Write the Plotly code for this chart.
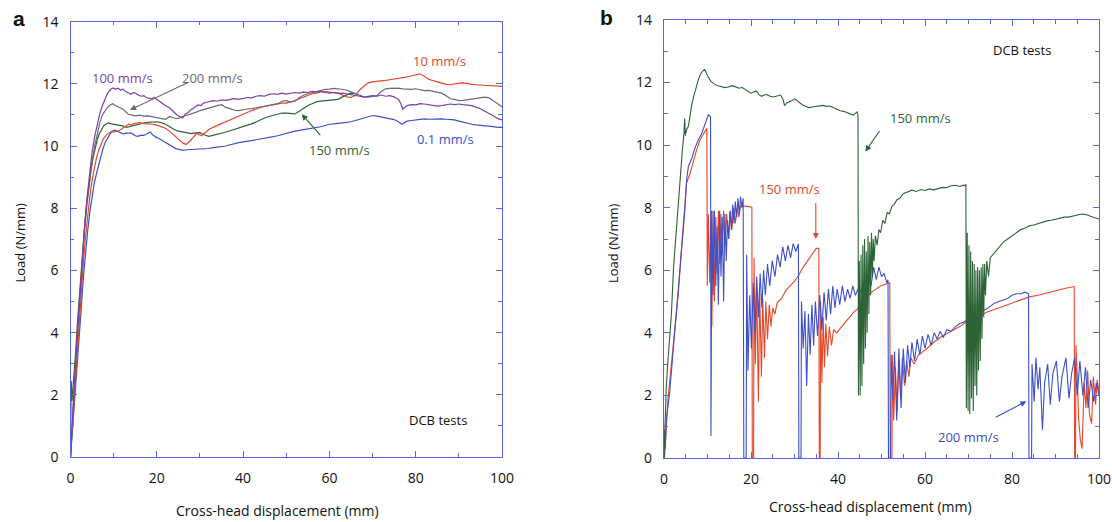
import plotly.graph_objects as go

# ---------------- panel (a): five loading rates ----------------
a_01_x = [0, 0.5, 1.0, 1.5, 2.0, 2.5, 3.0, 3.5, 4.0, 4.5, 5.0, 5.5, 6.0, 6.5, 7.0, 7.5, 8.0, 8.5, 9.0, 9.5, 10, 10.5, 11, 11.5, 12, 12.5, 13, 13.5, 14, 14.5, 15, 15.5, 16, 16.5, 17, 17.5, 18, 18.5, 19, 19.5, 20, 20.5, 21, 21.5, 22, 22.5, 23, 23.5, 24, 24.5, 25, 26, 27, 28, 29, 30, 31, 32, 33, 34, 35, 36, 37, 38, 39, 40, 41, 42, 43, 44, 45, 46, 47, 48, 49, 50, 51, 52, 53, 54, 55, 56, 57, 58, 59, 60, 61, 62, 63, 64, 65, 66, 67, 68, 69, 70, 71, 72, 73, 74, 75, 76, 76.8, 77.5, 78, 79, 80, 81, 82, 83, 84, 85, 86, 87, 88, 89, 90, 91, 92, 93, 94, 95, 96, 97, 98, 99, 100]
a_01_y = [0, 0.9, 1.9, 2.8, 3.8, 4.8, 5.8, 6.6, 7.3, 7.9, 8.4, 8.8, 9.1, 9.4, 9.7, 9.9, 10.1, 10.25, 10.35, 10.45, 10.5, 10.5, 10.46, 10.43, 10.4, 10.39, 10.42, 10.41, 10.42, 10.38, 10.33, 10.31, 10.33, 10.35, 10.34, 10.38, 10.42, 10.45, 10.36, 10.3, 10.27, 10.24, 10.2, 10.16, 10.12, 10.07, 10.03, 9.98, 9.94, 9.91, 9.9, 9.86, 9.88, 9.89, 9.9, 9.91, 9.9, 9.92, 9.95, 9.96, 9.98, 10.0, 10.04, 10.08, 10.11, 10.13, 10.14, 10.17, 10.2, 10.22, 10.25, 10.28, 10.3, 10.33, 10.37, 10.42, 10.46, 10.48, 10.5, 10.52, 10.55, 10.57, 10.6, 10.62, 10.66, 10.7, 10.71, 10.72, 10.74, 10.76, 10.78, 10.82, 10.86, 10.9, 10.95, 10.98, 10.96, 10.93, 10.9, 10.88, 10.85, 10.78, 10.7, 10.76, 10.8, 10.82, 10.84, 10.85, 10.87, 10.86, 10.87, 10.86, 10.87, 10.86, 10.85, 10.84, 10.8, 10.76, 10.73, 10.7, 10.68, 10.67, 10.66, 10.65, 10.62, 10.6, 10.6]

a_10_x = [0, 0.5, 1.0, 1.5, 2.0, 2.5, 3.0, 3.5, 4.0, 4.5, 5.0, 5.5, 6.0, 6.5, 7.0, 7.5, 8.0, 8.5, 9.0, 9.5, 10, 10.5, 11, 11.5, 12, 12.5, 13, 13.5, 14, 15, 16, 17, 18, 19, 20, 21, 22, 23, 24, 25, 26, 26.8, 27.4, 28, 28.6, 29.2, 29.8, 30.4, 31, 32, 33, 34, 35, 36, 37, 38, 39, 40, 41, 42, 43, 44, 45, 46, 47, 48, 49, 50, 51, 52, 53, 54, 55, 56, 57, 58, 59, 60, 61, 62, 63, 64, 65, 66, 67, 68, 69, 70, 71, 72, 73, 74, 75, 76, 77, 78, 79, 80, 81, 82, 83, 84, 85, 86, 87, 88, 89, 90, 91, 92, 93, 94, 95, 96, 97, 98, 99, 100]
a_10_y = [0, 1.1, 2.2, 3.3, 4.3, 5.3, 6.3, 7.1, 7.8, 8.4, 8.9, 9.3, 9.6, 9.85, 10.05, 10.2, 10.3, 10.38, 10.42, 10.47, 10.45, 10.48, 10.47, 10.52, 10.58, 10.62, 10.66, 10.7, 10.68, 10.73, 10.75, 10.72, 10.72, 10.7, 10.67, 10.63, 10.57, 10.47, 10.36, 10.22, 10.1, 10.05, 10.12, 10.2, 10.3, 10.4, 10.36, 10.33, 10.4, 10.52, 10.6, 10.66, 10.72, 10.8, 10.84, 10.9, 10.98, 11.04, 11.1, 11.14, 11.18, 11.24, 11.27, 11.3, 11.33, 11.36, 11.38, 11.38, 11.41, 11.46, 11.52, 11.58, 11.64, 11.68, 11.7, 11.74, 11.75, 11.73, 11.72, 11.7, 11.64, 11.58, 11.56, 11.62, 11.8, 11.93, 12.03, 12.06, 12.07, 12.1, 12.11, 12.13, 12.15, 12.18, 12.2, 12.22, 12.26, 12.28, 12.32, 12.24, 12.15, 12.1, 12.06, 12.02, 11.98, 11.97, 12.0, 12.02, 12.03, 12.0, 11.98, 11.97, 11.96, 11.95, 11.93, 11.94, 11.91, 11.92]

a_100_x = [0, 0.3, 0.8, 1.4, 2.0, 2.6, 3.2, 3.8, 4.4, 5.0, 5.6, 6.2, 6.8, 7.4, 8.0, 8.6, 9.2, 9.8, 10.4, 11.0, 11.6, 12.2, 12.8, 13.4, 14.0, 14.6, 15.2, 15.8, 16.4, 17.0, 17.6, 18.2, 18.8, 19.4, 20.0, 20.6, 21.2, 21.8, 22.4, 23.0, 23.6, 24.2, 24.8, 25.4, 26.0, 26.6, 27.2, 27.8, 28.4, 29.0, 29.6, 30.2, 30.8, 31.4, 32, 33, 34, 35, 36, 37, 38, 39, 40, 41, 42, 43, 44, 45, 46, 47, 48, 49, 50, 51, 52, 53, 54, 55, 56, 57, 58, 59, 60, 61, 62, 63, 64, 65, 66, 67, 68, 69, 70, 71, 72, 73, 74, 75, 76, 76.6, 77, 78, 79, 80, 81, 82, 83, 84, 85, 86, 87, 88, 89, 90, 91, 92, 93, 94, 95, 96, 97, 98, 99, 100]
a_100_y = [0, 0.9, 2.1, 3.5, 4.8, 6.0, 7.3, 8.3, 9.1, 9.8, 10.3, 10.7, 11.05, 11.3, 11.5, 11.7, 11.8, 11.87, 11.83, 11.86, 11.8, 11.83, 11.75, 11.7, 11.66, 11.72, 11.69, 11.63, 11.6, 11.62, 11.55, 11.54, 11.52, 11.56, 11.5, 11.45, 11.36, 11.32, 11.27, 11.22, 11.14, 11.06, 10.98, 10.94, 10.9, 11.02, 11.07, 11.16, 11.2, 11.27, 11.32, 11.3, 11.38, 11.4, 11.42, 11.46, 11.44, 11.48, 11.47, 11.5, 11.52, 11.5, 11.54, 11.56, 11.55, 11.6, 11.62, 11.6, 11.66, 11.68, 11.66, 11.7, 11.67, 11.69, 11.72, 11.7, 11.73, 11.72, 11.76, 11.74, 11.76, 11.72, 11.7, 11.72, 11.69, 11.7, 11.68, 11.66, 11.62, 11.6, 11.57, 11.6, 11.62, 11.6, 11.64, 11.6, 11.62, 11.58, 11.5, 11.35, 11.18, 11.3, 11.33, 11.32, 11.36, 11.35, 11.33, 11.3, 11.28, 11.3, 11.33, 11.35, 11.33, 11.35, 11.33, 11.32, 11.3, 11.25, 11.2, 11.12, 11.05, 10.97, 10.88, 10.84]

a_150_x = [0, 0.15, 0.35, 0.7, 1.2, 1.7, 2.2, 2.7, 3.2, 3.7, 4.2, 4.7, 5.2, 5.7, 6.2, 6.7, 7.2, 7.7, 8.2, 8.7, 9.2, 10, 11, 12, 13, 14, 15, 16, 17, 18, 19, 20, 21, 22, 23, 24, 25, 26, 27, 28, 29, 30, 31, 32, 33, 34, 35, 36, 37, 38, 39, 40, 41, 42, 43, 44, 45, 46, 47, 48, 49, 50, 51, 52, 53, 54, 55, 56, 57, 58, 59, 60, 61, 62, 63, 64, 65, 66]
a_150_y = [0, 2.45, 1.8, 2.4, 3.4, 4.5, 5.5, 6.4, 7.3, 8.1, 8.7, 9.2, 9.6, 9.95, 10.2, 10.4, 10.55, 10.65, 10.7, 10.74, 10.72, 10.7, 10.68, 10.65, 10.6, 10.64, 10.68, 10.7, 10.74, 10.76, 10.77, 10.78, 10.75, 10.7, 10.62, 10.53, 10.48, 10.46, 10.44, 10.4, 10.42, 10.43, 10.36, 10.31, 10.34, 10.37, 10.4, 10.45, 10.49, 10.54, 10.58, 10.62, 10.67, 10.71, 10.78, 10.84, 10.9, 10.95, 10.98, 11.02, 11.06, 11.06, 11.05, 11.03, 11.12, 11.22, 11.3, 11.36, 11.42, 11.44, 11.46, 11.47, 11.48, 11.5, 11.58, 11.65, 11.7, 11.68]

a_200_x = [0, 0.3, 0.8, 1.4, 2.0, 2.6, 3.2, 3.8, 4.4, 5.0, 5.6, 6.2, 6.8, 7.4, 8.0, 8.6, 9.2, 9.8, 10.4, 11.0, 11.6, 12.2, 12.8, 13.4, 14, 15, 16, 17, 18, 19, 20, 21, 22, 23, 24, 25, 26, 27, 28, 29, 30, 31, 32, 33, 34, 35, 36, 37, 38, 39, 40, 41, 42, 43, 44, 45, 46, 47, 48, 49, 50, 51, 52, 53, 54, 55, 56, 57, 58, 59, 60, 61, 62, 63, 64, 65, 66, 67, 68, 69, 70, 71, 72, 73, 74, 75, 76, 77, 78, 79, 80, 81, 82, 83, 84, 85, 86, 87, 88, 89, 90, 91, 92, 93, 94, 95, 96, 97, 98, 99, 100]
a_200_y = [0, 0.9, 2.1, 3.5, 4.8, 6.0, 7.2, 8.1, 8.9, 9.5, 10.0, 10.4, 10.75, 11.0, 11.15, 11.25, 11.32, 11.36, 11.3, 11.27, 11.22, 11.18, 11.1, 11.02, 11.0, 10.97, 10.99, 10.96, 10.97, 10.94, 10.92, 10.9, 10.86, 10.95, 10.9, 10.88, 10.95, 10.99, 11.03, 11.08, 11.14, 11.18, 11.22, 11.28, 11.3, 11.33, 11.24, 11.2, 11.15, 11.14, 11.17, 11.19, 11.2, 11.23, 11.25, 11.27, 11.3, 11.33, 11.36, 11.44, 11.46, 11.42, 11.44, 11.55, 11.63, 11.68, 11.72, 11.76, 11.79, 11.82, 11.83, 11.85, 11.84, 11.83, 11.8, 11.74, 11.68, 11.62, 11.58, 11.57, 11.6, 11.62, 11.75, 11.84, 11.85, 11.86, 11.86, 11.84, 11.83, 11.82, 11.84, 11.8, 11.78, 11.79, 11.76, 11.74, 11.7, 11.62, 11.52, 11.5, 11.46, 11.47, 11.49, 11.5, 11.52, 11.54, 11.57, 11.55, 11.45, 11.35, 11.26]

# ---------------- panel (b): stick-slip records ----------------
b_green_x = [0, 0.15, 0.5, 0.9, 1.3, 1.7, 2.2, 2.9, 3.6, 4.2, 4.6, 4.75, 4.9, 5.2, 5.6, 6.0, 6.4, 6.9, 7.4, 8.0, 8.5, 9.0, 9.3, 9.6, 10.0, 10.8, 11.6, 12.4, 13.2, 14.0, 14.8, 15.6, 16.4, 17.2, 18.0, 18.8, 19.5, 20.0, 20.6, 21.2, 21.8, 22.4, 23.0, 23.6, 24.4, 25.2, 26.0, 26.8, 27.4, 27.7, 28.2, 28.8, 29.3, 30.1, 30.9, 31.7, 32.5, 33.3, 34.1, 34.9, 35.7, 36.5, 37.3, 38.1, 38.9, 39.7, 40.5, 41.3, 42.1, 42.9, 43.5, 44.1, 44.4, 44.6,
             44.7, 44.9, 45.1, 45.3, 45.5, 45.7, 45.9, 46.1, 46.3, 46.5, 46.7, 46.9, 47.1, 47.3, 47.5, 47.7, 47.9, 48.1, 48.3, 48.6, 49.0, 49.4, 49.8, 50.3, 50.8, 51.3, 51.8, 52.4, 52.9, 53.5, 54.2, 55.0, 56.0, 57.0, 58.0, 59.0, 60.0, 61.0, 62.0, 63.0, 64.0, 65.0, 66.0, 67.0, 68.0, 68.8, 69.2, 69.4,
             69.5, 69.7, 69.9, 70.1, 70.3, 70.5, 70.7, 70.9, 71.1, 71.3, 71.5, 71.7, 71.9, 72.1, 72.3, 72.5, 72.7, 72.9, 73.1, 73.3, 73.5, 73.7, 73.9, 74.2, 74.6, 75.0, 75.6, 76.3, 77, 78, 79, 80, 81, 82, 83, 84, 85, 86, 87, 88, 89, 90, 91, 92, 93, 94, 95, 96, 97, 98, 99, 100]
b_green_y = [0, 0.8, 2.2, 3.1, 3.9, 4.6, 6.1, 7.4, 8.9, 9.8, 10.4, 10.85, 10.3, 10.5, 10.6, 11.0, 11.3, 11.6, 11.85, 12.14, 12.3, 12.38, 12.42, 12.35, 12.22, 12.04, 11.95, 11.9, 11.88, 11.84, 11.86, 11.9, 11.87, 11.82, 11.84, 11.76, 11.7, 11.66, 11.7, 11.73, 11.62, 11.56, 11.6, 11.62, 11.56, 11.54, 11.57, 11.6, 11.45, 11.26, 11.35, 11.4, 11.42, 11.48, 11.38, 11.3, 11.24, 11.2, 11.22, 11.23, 11.25, 11.27, 11.24, 11.25, 11.2, 11.14, 11.1, 11.08, 11.03, 10.98, 10.96, 11.03, 11.06, 10.95,
             2.0, 6.3, 2.0, 6.5, 2.3, 6.8, 3.0, 7.0, 3.5, 6.6, 4.0, 7.1, 4.6, 6.9, 5.2, 7.2, 5.8, 7.0, 6.3, 7.1, 6.8, 7.3, 7.2, 7.6, 7.5, 7.85, 7.8, 8.05, 8.1, 8.25, 8.3, 8.45, 8.5, 8.56, 8.52, 8.58, 8.55, 8.6, 8.57, 8.62, 8.65, 8.64, 8.7, 8.72, 8.68, 8.72, 8.7, 8.75,
             1.6, 7.2, 1.5, 6.8, 1.4, 6.6, 1.9, 6.3, 1.5, 6.2, 2.3, 6.0, 2.0, 6.1, 2.8, 6.0, 3.1, 6.1, 3.8, 6.2, 4.5, 6.2, 5.2, 6.3, 5.8, 6.4, 6.5, 6.6, 6.75, 6.9, 7.0, 7.1, 7.2, 7.3, 7.35, 7.42, 7.45, 7.5, 7.55, 7.58, 7.6, 7.63, 7.66, 7.7, 7.7, 7.73, 7.75, 7.8, 7.78, 7.72, 7.68, 7.64]

b_red_x = [0, 0.15, 0.9, 1.7, 2.5, 3.3, 4.0, 4.8, 5.2, 6.0, 6.7, 7.5, 8.3, 9.1, 9.6, 9.85,
           9.95, 10.2, 10.5, 10.8, 11.0, 11.3, 11.6, 11.9, 12.2, 12.5, 12.8, 13.1, 13.4, 13.7, 14.0, 14.4, 14.8, 15.2, 15.6, 16.0, 16.4, 16.8, 17.2, 17.6, 18.0, 19.0, 20.2,
           20.3, 20.6, 20.7, 21.0, 21.3, 21.7, 22.0, 22.4, 22.7, 23.1, 23.4, 23.8, 24.2, 24.6, 25.0, 25.5, 26, 27, 28, 29, 30, 31, 32, 33, 34, 35, 35.6,
           35.7, 35.9, 36.0, 36.3, 36.6, 36.9, 37.2, 37.6, 38.0, 38.5, 39.0, 39.7, 40.5, 41.2, 42.0, 42.8, 43.5, 44.3, 45.1, 45.9, 46.6, 47.4, 48.2, 49.0, 49.8, 50.5, 51.2, 51.9,
           52.0, 52.4, 52.5, 52.8, 53.2, 53.6, 54.0, 54.4, 54.8, 55.3, 55.8, 56.3, 56.8, 57.5, 58.5, 59.5, 60.5, 62, 64, 66, 68, 70, 72, 74, 76, 78, 80, 82, 84, 86, 88, 90, 92, 94.3,
           94.4, 94.6, 94.7, 95.0, 95.3, 95.7, 96.1, 96.6, 97.0, 97.4, 97.8, 98.3, 98.7, 99.2, 99.6, 100]
b_red_y = [0, 0.05, 1.86, 2.93, 4.0, 5.27, 6.66, 8.04, 8.8, 9.1, 9.48, 9.85, 10.17, 10.38, 10.5, 10.54,
           5.5, 7.8, 5.6, 7.6, 4.2, 7.9, 5.0, 7.7, 5.9, 7.9, 6.2, 7.8, 6.5, 7.9, 6.8, 7.8, 7.0, 7.9, 7.3, 8.0, 7.5, 8.0, 7.7, 8.05, 8.05, 8.05, 8.02,
           0, 0, 6.4, 3.0, 5.6, 1.8, 5.3, 2.6, 5.1, 3.2, 5.0, 3.8, 4.9, 4.2, 4.8, 4.6, 4.96, 5.1, 5.35, 5.5, 5.65, 5.85, 6.1, 6.3, 6.5, 6.7, 6.7,
           0, 0, 5.0, 2.4, 4.5, 2.9, 4.3, 3.25, 4.2, 3.6, 4.1, 4.0, 4.15, 4.26, 4.4, 4.52, 4.65, 4.74, 4.9, 5.06, 5.15, 5.27, 5.35, 5.43, 5.5, 5.54, 5.57, 5.6,
           0, 0, 3.3, 1.2, 2.9, 1.5, 3.1, 1.9, 3.2, 2.3, 3.1, 2.6, 3.2, 3.0, 3.3, 3.4, 3.5, 3.7, 3.9, 4.05, 4.2, 4.4, 4.5, 4.65, 4.75, 4.85, 4.95, 5.05, 5.15, 5.2, 5.28, 5.35, 5.42, 5.48,
           0, 0, 3.6, 2.6, 1.3, 0.6, 0.3, 2.4, 1.6, 2.8, 1.4, 1.1, 2.6, 1.7, 2.5, 2.1]

b_blue_x = [0, 0.1, 0.3, 0.5, 1.3, 2.1, 2.9, 3.6, 4.4, 4.8, 5.2, 5.6, 6.4, 7.1, 7.9, 8.7, 9.5, 10.2, 10.6, 10.7,
            10.8, 11.0, 11.3, 11.6, 11.9, 12.2, 12.5, 12.8, 13.1, 13.4, 13.7, 14.0, 14.3, 14.6, 14.9, 15.2, 15.5, 15.8, 16.1, 16.4, 16.7, 17.0, 17.3, 17.6, 17.9, 18.2,
            18.35, 18.9, 19.0, 19.3, 19.7, 20.1, 20.5, 20.9, 21.3, 21.7, 22.1, 22.5, 22.9, 23.3, 23.8, 24.3, 24.9, 25.5, 26.1, 26.7, 27.3, 27.9, 28.5, 29.1, 29.7, 30.3, 30.9,
            31.0, 31.5, 31.6, 32.0, 32.4, 32.8, 33.2, 33.6, 34.0, 34.4, 34.8, 35.3, 35.8, 36.3, 36.8, 37.3, 37.8, 38.3, 38.8, 39.3, 39.8, 40.4, 41.0, 41.6, 42.2, 42.8, 43.4, 44.0, 44.6, 45.2, 45.8, 46.4, 47.0, 47.6, 48.2, 48.8, 49.4, 50.0, 50.6, 51.2, 51.5,
            51.6, 52.1, 52.2, 52.6, 53.0, 53.5, 54.0, 54.5, 55.0, 55.5, 56.0, 56.5, 57.0, 57.6, 58.2, 58.8, 59.4, 60.0, 60.7, 61.4, 62.1, 62.8, 63.5, 64.2, 65, 66, 67, 68, 69, 70, 71, 72, 73, 74, 75, 76, 77, 78, 79, 80, 81, 82, 83, 83.8,
            83.9, 84.5, 84.6, 85.1, 85.5, 86.0, 86.4, 87.0, 87.5, 88.2, 88.8, 89.4, 90.2, 90.9, 91.5, 92.4, 93.1, 93.7, 94.4, 95.0, 95.6, 96.3, 96.9, 97.5, 98.1, 98.8, 99.4, 100]
b_blue_y = [0, 0.9, 0.3, 1.2, 2.08, 3.46, 4.63, 5.91, 7.19, 7.93, 8.89, 9.32, 9.58, 9.9, 10.17, 10.38, 10.7, 10.97, 10.92, 10.9,
            0.7, 7.9, 5.2, 7.9, 5.5, 7.4, 4.9, 7.9, 5.8, 7.7, 5.0, 7.8, 6.3, 7.6, 7.0, 7.9, 7.3, 8.1, 7.5, 8.2, 7.7, 8.3, 7.8, 8.35, 8.0, 8.3,
            0, 0, 6.5, 2.8, 5.2, 3.5, 5.6, 4.0, 5.8, 4.5, 5.9, 4.8, 6.0, 5.2, 6.2, 5.5, 6.3, 5.8, 6.5, 6.1, 6.75, 6.3, 6.8, 6.4, 6.85, 6.6, 6.84,
            0, 0, 5.0, 3.5, 4.7, 2.3, 4.6, 3.3, 4.9, 3.6, 5.0, 3.9, 5.2, 4.1, 5.3, 4.4, 5.4, 4.6, 5.5, 4.8, 5.4, 4.9, 5.5, 5.0, 5.4, 5.1, 5.5, 5.2, 5.4, 5.3, 5.6, 5.4, 5.9, 5.5, 6.1, 5.7, 6.1, 5.8, 5.9, 5.6, 5.7,
            0, 0, 3.3, 1.9, 3.4, 1.2, 3.5, 1.6, 3.5, 2.4, 3.6, 2.9, 3.7, 3.1, 3.8, 3.3, 3.9, 3.5, 3.95, 3.6, 4.0, 3.8, 4.05, 3.85, 4.1, 4.05, 4.2, 4.3, 4.35, 4.45, 4.55, 4.6, 4.7, 4.75, 4.85, 4.95, 5.0, 5.05, 5.1, 5.2, 5.25, 5.25, 5.3, 5.25,
            0, 0, 3.0, 1.8, 3.2, 2.2, 2.9, 0.9, 2.4, 3.0, 1.7, 2.7, 3.1, 1.8, 2.6, 3.2, 1.9, 2.7, 3.2, 2.0, 3.1, 2.0, 2.9, 1.6, 2.5, 1.8, 2.4, 2.0]

BLUE = "#3d50c8"
RED = "#e4472a"
GREEN = "#2c6435"
PURPLE = "#7a3fa6"
GRAY = "#6c6878"
FRAME = "#5868de"
INK = "#111111"
FONT = "Open Sans"

fig = go.Figure()

series_a = [
    (a_150_x, a_150_y, GREEN),
    (a_01_x, a_01_y, BLUE),
    (a_10_x, a_10_y, RED),
    (a_200_x, a_200_y, GRAY),
    (a_100_x, a_100_y, PURPLE),
]
for xs, ys, col in series_a:
    fig.add_trace(go.Scatter(x=xs, y=ys, mode="lines", line=dict(color=col, width=1.2),
                             xaxis="x", yaxis="y", showlegend=False, hoverinfo="skip"))

series_b = [
    (b_red_x, b_red_y, RED),
    (b_blue_x, b_blue_y, BLUE),
    (b_green_x, b_green_y, GREEN),
]
for xs, ys, col in series_b:
    fig.add_trace(go.Scatter(x=xs, y=ys, mode="lines", line=dict(color=col, width=1.1),
                             xaxis="x2", yaxis="y2", showlegend=False, hoverinfo="skip"))


def axis(domain, rng, dtick, minor_dtick, anchor):
    return dict(
        domain=domain, range=rng, anchor=anchor, automargin=False,
        showline=True, linecolor=FRAME, linewidth=1.3, mirror="allticks",
        ticks="inside", ticklen=6, tickwidth=1.2, tickcolor=FRAME,
        tick0=0, dtick=dtick,
        minor=dict(dtick=minor_dtick, tick0=0, ticks="inside", ticklen=3.5,
                   tickwidth=1.1, tickcolor=FRAME),
        showgrid=False, zeroline=False,
        tickfont=dict(family=FONT, size=14, color=INK),
        ticklabelstandoff=8,
    )


W, H = 1112, 522
# plot-area edges in pixels
A_L, A_R, A_T, A_B = 70.5, 502, 21.6, 457
B_L, B_R, B_T, B_B = 664, 1099, 20, 458

fig.update_layout(
    width=W, height=H, margin=dict(l=0, r=0, t=0, b=0),
    paper_bgcolor="white", plot_bgcolor="white",
    xaxis=axis([A_L / W, A_R / W], [0, 100], 20, 10, "y"),
    yaxis=axis([1 - A_B / H, 1 - A_T / H], [0, 14], 2, 1, "x"),
    xaxis2=axis([B_L / W, B_R / W], [0, 100], 20, 5, "y2"),
    yaxis2=axis([1 - B_B / H, 1 - B_T / H], [0, 14], 2, 1, "x2"),
)

ann = []


def label(text, x, y, color, xref="x", yref="y", size=13):
    ann.append(dict(text=text, x=x, y=y, xref=xref, yref=yref, showarrow=False,
                    xanchor="center", yanchor="middle",
                    font=dict(family=FONT, size=size, color=color)))


def arrow(x0, y0, x1, y1, color, xref="x", yref="y"):
    ann.append(dict(text="", x=x1, y=y1, ax=x0, ay=y0, xref=xref, yref=yref,
                    axref=xref, ayref=yref, showarrow=True, arrowhead=2,
                    arrowsize=1.1, arrowwidth=1.1, arrowcolor=color))


def paper_text(text, px, py, size, family=FONT, angle=0):
    ann.append(dict(text=text, x=px / W, y=1 - py / H, xref="paper", yref="paper",
                    xanchor="center", yanchor="middle", textangle=angle, showarrow=False,
                    font=dict(family=family, size=size, color=INK)))


# panel (a) labels
label("100 mm/s", 12.0, 12.19, PURPLE)
label("200 mm/s", 33.0, 12.19, GRAY)
arrow(27.7, 12.07, 13.8, 11.16, GRAY)
label("10 mm/s", 85.6, 12.72, RED)
label("0.1 mm/s", 86.8, 10.21, BLUE)
label("150 mm/s", 62.3, 9.87, GREEN)
arrow(58.2, 10.3, 53.6, 11.02, GREEN)
label("DCB tests", 85.1, 1.18, INK)

# panel (b) labels
label("DCB tests", 82.2, 13.05, INK, "x2", "y2")
label("150 mm/s", 59.0, 10.87, GREEN, "x2", "y2")
arrow(49.8, 10.5, 46.3, 9.8, GREEN, "x2", "y2")
label("150 mm/s", 28.9, 8.59, RED, "x2", "y2")
arrow(34.9, 8.2, 34.9, 7.0, RED, "x2", "y2")
label("200 mm/s", 69.9, 0.67, BLUE, "x2", "y2")
arrow(75.9, 1.28, 83.3, 1.81, BLUE, "x2", "y2")

# axis titles
paper_text("Cross-head displacement (mm)", A_L + 0.48 * (A_R - A_L), 510, 14)
paper_text("Cross-head displacement (mm)", B_L + 0.475 * (B_R - B_L), 506, 14)
paper_text("Load (N/mm)", 19.5, 243, 13, angle=-90)
paper_text("Load (N/mm)", 613, 243, 13, angle=-90)

# panel letters
paper_text("<b>a</b>", 18.5, 19, 21, family="Liberation Sans")
paper_text("<b>b</b>", 606, 17, 21, family="Liberation Sans")

fig.update_layout(annotations=ann)
fig.write_html("out.html")
